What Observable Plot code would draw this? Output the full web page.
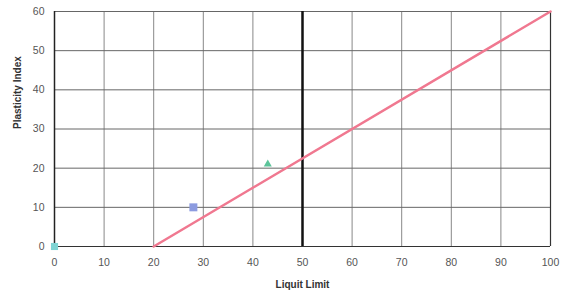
<!DOCTYPE html>
<html><head><meta charset="utf-8">
<script src="https://cdn.jsdelivr.net/npm/d3@7"></script>
<script src="https://cdn.jsdelivr.net/npm/@observablehq/plot@0.6"></script>
<style>body{margin:0;background:#fff;font-family:"Liberation Sans",Arial,sans-serif}</style>
</head><body><div id="chart"></div>
<script>
const xTicks = [0,10,20,30,40,50,60,70,80,90,100];
const yTicks = [0,10,20,30,40,50,60];
const aLineLL = [20, 100];
const aLinePI = [0, 60];
const sampleLL = [0, 28, 43];
const samplePI = [0, 10, 21];
const sampleShape = ["square", "square", "triangle"];
const sampleColor = ["#7fd4d4", "#8c9be0", "#5cc49a"];
const sampleSize = [4, 4.5, 3];
const divider = [50];

const aLine = aLineLL.map((x,i)=>({x, y:aLinePI[i]}));
const samples = sampleLL.map((x,i)=>({x, y:samplePI[i], s:sampleShape[i], c:sampleColor[i], r:sampleSize[i]}));

const chart = Plot.plot({
  width: 562, height: 295,
  marginLeft: 54, marginRight: 12, marginTop: 11, marginBottom: 49,
  style: {fontFamily: '"Liberation Sans", Arial, sans-serif', fontSize: "11px", color: "#444", background: "#fff"},
  r: {type: "identity"},
  x: {domain: [0,100], ticks: xTicks, tickSize: 0, tickPadding: 10, label: null},
  y: {domain: [0,60], ticks: yTicks, tickSize: 0, tickPadding: 10, label: null},
  marks: [
    Plot.gridX(xTicks, {stroke: "#888", strokeOpacity: 1, strokeWidth: 1}),
    Plot.gridY(yTicks, {stroke: "#666", strokeOpacity: 1, strokeWidth: 1}),
    Plot.ruleX([0], {stroke: "#222", strokeWidth: 1.5}),
    Plot.ruleY([0], {stroke: "#333", strokeWidth: 1.2}),
    Plot.ruleX([100], {stroke: "#333", strokeWidth: 1.2}),
    Plot.ruleX(divider, {stroke: "#111", strokeWidth: 2.5}),
    Plot.line(aLine, {x: "x", y: "y", stroke: "#f07890", strokeWidth: 2.5}),
    Plot.dot(samples, {x: "x", y: "y", symbol: d => d.s, fill: d => d.c, r: "r"}),
    Plot.axisX({ticks: xTicks, tickSize: 0, tickPadding: 12, fontSize: 10.5, fill: "#555"}),
    Plot.axisY({ticks: yTicks, tickSize: 0, tickPadding: 10, fontSize: 10.5, fill: "#555"}),
    Plot.text(["Liquit Limit"], {frameAnchor: "bottom", dy: 41, fontWeight: "bold", fontSize: 10, fill: "#333"}),
    Plot.text(["Plasticity Index"], {frameAnchor: "left", dx: -37, rotate: -90, fontWeight: "bold", fontSize: 10, fill: "#333"})
  ]
});
document.getElementById("chart").append(chart);
</script></body></html>
